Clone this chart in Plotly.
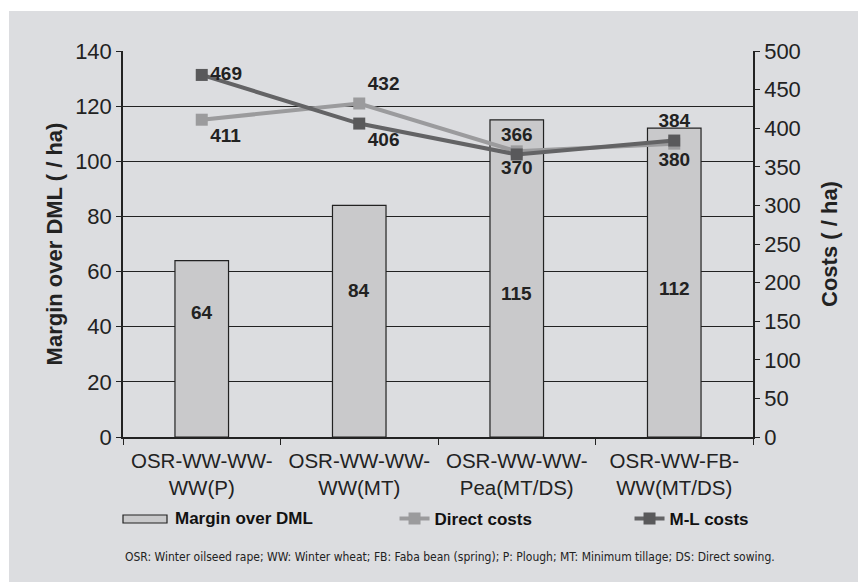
import plotly.graph_objects as go

categories = ["OSR-WW-WW-<br>WW(P)", "OSR-WW-WW-<br>WW(MT)", "OSR-WW-WW-<br>Pea(MT/DS)", "OSR-WW-FB-<br>WW(MT/DS)"]
margin_over_dml = [64, 84, 115, 112]
direct_costs = [411, 432, 370, 380]
ml_costs = [469, 406, 366, 384]

left_ticks = [0, 20, 40, 60, 80, 100, 120, 140]
right_ticks = [0, 50, 100, 150, 200, 250, 300, 350, 400, 450, 500]

# label styling
bar_label_y = [45, 53, 52, 54]
direct_text_pos = ["bottom right", "top right", "bottom center", "bottom center"]
ml_text_pos = ["middle right", "bottom right", "top center", "top center"]

PANEL = "#dcdde0"
BAR = "#c9c9cb"
FONT = "Liberation Sans, Arial, sans-serif"
TXT = "#222222"

fig = go.Figure()
fig.add_trace(go.Bar(
    x=categories, y=margin_over_dml, name="Margin over DML",
    marker=dict(color=BAR, line=dict(color=TXT, width=1.2)),
    width=0.34, yaxis="y", showlegend=False,
))
fig.add_trace(go.Scatter(
    x=categories, y=direct_costs, name="Direct costs", yaxis="y2", legend="legend2",
    mode="lines+markers+text", text=[str(v) for v in direct_costs],
    textposition=direct_text_pos,
    textfont=dict(size=19, color=TXT, family=FONT, weight="bold"),
    line=dict(color="#9b9b9d", width=4),
    marker=dict(symbol="square", size=12, color="#9b9b9d"),
))
fig.add_trace(go.Scatter(
    x=categories, y=ml_costs, name="M-L costs", yaxis="y2", legend="legend3",
    mode="lines+markers+text", text=[str(v) for v in ml_costs],
    textposition=ml_text_pos,
    textfont=dict(size=19, color=TXT, family=FONT, weight="bold"),
    line=dict(color="#636365", width=4),
    marker=dict(symbol="square", size=12, color="#59595b"),
))

annotations = []
for c, v, ly in zip(categories, margin_over_dml, bar_label_y):
    annotations.append(dict(x=c, y=ly, xref="x", yref="y", text=f"<b>{v}</b>",
                            showarrow=False, font=dict(size=19, color=TXT, family=FONT)))
annotations.append(dict(
    x=0, y=-0.311, xref="paper", yref="paper", xanchor="left", yanchor="middle",
    text="OSR: Winter oilseed rape; WW: Winter wheat; FB: Faba bean (spring); P: Plough; MT: Minimum tillage; DS: Direct sowing.",
    showarrow=False,
    font=dict(size=12, color=TXT, family="DejaVu Sans Condensed, DejaVu Sans, sans-serif"),
))
# bar legend entry (wide swatch, as in the original)
annotations.append(dict(
    x=(173 - 123) / 630, y=-0.212, xref="paper", yref="paper", xanchor="left", yanchor="middle",
    text="<b>Margin over DML</b>", showarrow=False,
    font=dict(size=17, color="#111111", family=FONT),
))

leg_common = dict(orientation="h", xanchor="left", y=-0.212, yanchor="middle",
                  font=dict(size=17, family=FONT, weight="bold", color="#111111"),
                  bgcolor="rgba(0,0,0,0)")

fig.update_layout(
    width=858, height=582,
    margin=dict(l=123, r=105, t=51, b=145),
    paper_bgcolor="white", plot_bgcolor=PANEL,
    font=dict(family=FONT, color=TXT),
    showlegend=True,
    legend2=dict(x=0.431, **leg_common),
    legend3=dict(x=0.804, **leg_common),
    bargap=0.66,
    xaxis=dict(type="category", tickson="boundaries", ticks="outside", ticklen=6,
               tickcolor=TXT, showline=True, linecolor=TXT, linewidth=1.5,
               ticklabelstandoff=5,
               tickfont=dict(size=20.5, color=TXT), showgrid=False),
    yaxis=dict(range=[0, 140], tickvals=left_ticks, ticks="outside", ticklen=5,
               tickcolor=TXT, showline=True, linecolor=TXT, linewidth=1.5,
               showgrid=True, gridcolor=TXT, gridwidth=1.2, zeroline=False,
               tickfont=dict(size=22, color=TXT),
               title=dict(text="<b>Margin over DML ( / ha)</b>", font=dict(size=22), standoff=6)),
    yaxis2=dict(range=[0, 500], tickvals=right_ticks, overlaying="y", side="right",
                ticks="outside", ticklen=5, tickcolor=TXT, showline=True,
                linecolor=TXT, linewidth=1.5, showgrid=False, zeroline=False,
                tickfont=dict(size=22, color=TXT),
                title=dict(text="<b>Costs ( / ha)</b>", font=dict(size=22), standoff=22)),
    annotations=annotations,
    shapes=[
        dict(type="rect", xref="paper", yref="paper",
             x0=(9 - 123) / 630, x1=(858 - 123) / 630 + 0.01,
             y0=(437 - 582) / 386 - 0.01, y1=(437 - 11) / 386,
             fillcolor=PANEL, line=dict(width=0), layer="below"),
        dict(type="rect", xref="paper", yref="paper",
             x0=0, x1=(167 - 123) / 630,
             y0=(437 - 523) / 386, y1=(437 - 515) / 386,
             fillcolor=BAR, line=dict(color=TXT, width=1.2)),
    ],
)

fig.write_html("out.html")
